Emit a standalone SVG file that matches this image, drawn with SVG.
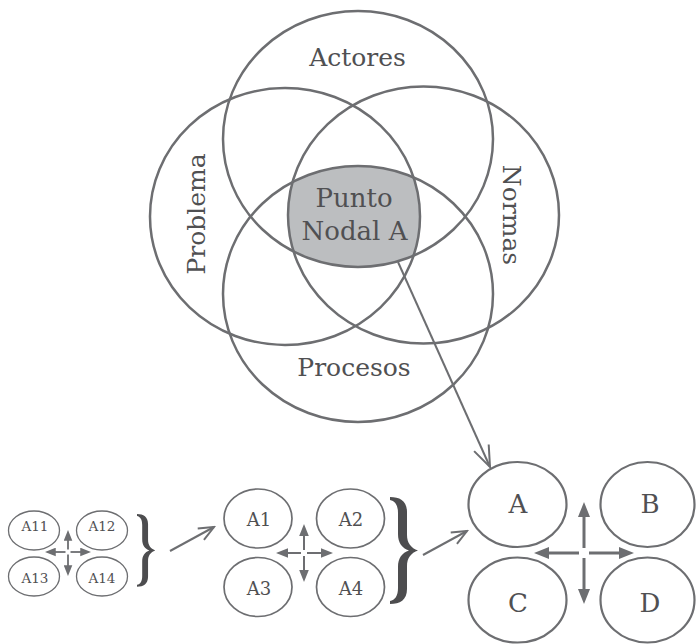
<svg xmlns="http://www.w3.org/2000/svg" width="698" height="644" viewBox="0 0 698 644">
  <style>
    .venn { fill: none; stroke: #6d6e71; stroke-width: 2.5; }
    .node { fill: #ffffff; stroke: #6d6e71; }
    .lbl { font-family: "DejaVu Serif", "Liberation Serif", serif; fill: #505052; text-anchor: middle; }
    .cross { stroke: #6d6e71; fill: none; marker-end: url(#tri); }
    .cross-s { stroke: #6d6e71; fill: none; marker-end: url(#triB); }
    .link { stroke: #6d6e71; stroke-width: 2; fill: none; }
    .brace { fill: #4d4d4f; }
  </style>
  <defs>
    <clipPath id="clipTop"><ellipse cx="358" cy="139" rx="135" ry="128"/></clipPath>
    <clipPath id="clipBottom"><ellipse cx="358" cy="294" rx="135" ry="128"/></clipPath>
    <clipPath id="clipLeft"><ellipse cx="285" cy="216.5" rx="135" ry="128.5"/></clipPath>
    <clipPath id="clipRight"><ellipse cx="423.5" cy="215" rx="135.5" ry="128.5"/></clipPath>
    <!-- filled heads for the cross arrows, scale with stroke width -->
    <marker id="tri" viewBox="0 0 10 8" markerWidth="5" markerHeight="4" refX="2" refY="4" orient="auto" markerUnits="strokeWidth">
      <path d="M0,0 L10,4 L0,8 Z" fill="#6d6e71"/>
    </marker>
    <marker id="triB" viewBox="0 0 10 8" markerWidth="6" markerHeight="5" refX="2" refY="4" orient="auto" markerUnits="strokeWidth">
      <path d="M0,0 L10,4 L0,8 Z" fill="#6d6e71"/>
    </marker>
    <!-- open chevron heads -->
    <marker id="openL" viewBox="-24 -12 26 24" markerWidth="26" markerHeight="24" refX="0" refY="0" orient="auto" markerUnits="userSpaceOnUse">
      <path d="M-21,-8 L0,0 L-21,8" fill="none" stroke="#6d6e71" stroke-width="2"/>
    </marker>
    <marker id="openS" viewBox="-18 -9 20 18" markerWidth="20" markerHeight="18" refX="0" refY="0" orient="auto" markerUnits="userSpaceOnUse">
      <path d="M-15,-6.5 L0,0 L-15,6.5" fill="none" stroke="#6d6e71" stroke-width="2"/>
    </marker>
  </defs>

  <!-- shaded core shared by all four sets -->
  <g id="punto-nodal">
    <g clip-path="url(#clipTop)">
      <g clip-path="url(#clipBottom)">
        <g clip-path="url(#clipLeft)">
          <ellipse cx="423.5" cy="215" rx="135.5" ry="128.5" fill="#bcbec0" clip-path="url(#clipRight)"/>
        </g>
      </g>
    </g>
  </g>

  <g id="actores"><ellipse class="venn" cx="358" cy="139" rx="135" ry="128"/></g>
  <g id="procesos"><ellipse class="venn" cx="358" cy="294" rx="135" ry="128"/></g>
  <g id="problema"><ellipse class="venn" cx="285" cy="216.5" rx="135" ry="128.5"/></g>
  <g id="normas"><ellipse class="venn" cx="423.5" cy="215" rx="135.5" ry="128.5"/></g>

  <g id="venn-labels">
    <text class="lbl" x="357.5" y="66" font-size="25">Actores</text>
    <text class="lbl" x="354" y="207" font-size="26">Punto</text>
    <text class="lbl" x="354.5" y="240" font-size="26">Nodal A</text>
    <text class="lbl" x="354" y="376" font-size="25">Procesos</text>
    <text class="lbl" font-size="25" transform="translate(205,214) rotate(-90)">Problema</text>
    <text class="lbl" font-size="25" transform="translate(503,215) rotate(90)">Normas</text>
  </g>

  <!-- small group -->
  <g id="a11"><ellipse class="node" stroke-width="1.3" cx="34" cy="530.5" rx="25.5" ry="19.5"/><text class="lbl" x="35" y="531" font-size="13.5">A11</text></g>
  <g id="a12"><ellipse class="node" stroke-width="1.3" cx="102" cy="530.5" rx="25.5" ry="19.5"/><text class="lbl" x="102" y="531" font-size="13.5">A12</text></g>
  <g id="a13"><ellipse class="node" stroke-width="1.3" cx="34" cy="576.5" rx="25.5" ry="19.5"/><text class="lbl" x="35" y="583" font-size="13.5">A13</text></g>
  <g id="a14"><ellipse class="node" stroke-width="1.3" cx="102" cy="576.5" rx="25.5" ry="19.5"/><text class="lbl" x="102" y="583" font-size="13.5">A14</text></g>

  <!-- middle group -->
  <g id="a1"><ellipse class="node" stroke-width="1.7" cx="258" cy="518.5" rx="34" ry="29.5"/><text class="lbl" x="259" y="526" font-size="18">A1</text></g>
  <g id="a2"><ellipse class="node" stroke-width="1.7" cx="350.5" cy="518.5" rx="34" ry="29.5"/><text class="lbl" x="351" y="526" font-size="18">A2</text></g>
  <g id="a3"><ellipse class="node" stroke-width="1.7" cx="258" cy="587" rx="34" ry="29.5"/><text class="lbl" x="259" y="595" font-size="18">A3</text></g>
  <g id="a4"><ellipse class="node" stroke-width="1.7" cx="350.5" cy="587" rx="34" ry="29.5"/><text class="lbl" x="351" y="595" font-size="18">A4</text></g>

  <!-- large group -->
  <g id="node-a"><ellipse class="node" stroke-width="2.2" cx="517.5" cy="504.5" rx="49" ry="42.5"/><text class="lbl" x="518" y="513" font-size="26">A</text></g>
  <g id="node-b"><ellipse class="node" stroke-width="2.2" cx="647.5" cy="504.5" rx="47" ry="42.5"/><text class="lbl" x="650" y="513" font-size="26">B</text></g>
  <g id="node-c"><ellipse class="node" stroke-width="2.2" cx="517.5" cy="600" rx="49" ry="42.5"/><text class="lbl" x="518" y="612" font-size="26">C</text></g>
  <g id="node-d"><ellipse class="node" stroke-width="2.2" cx="647.5" cy="600" rx="47" ry="42.5"/><text class="lbl" x="650" y="612" font-size="26">D</text></g>

  <!-- grouping braces -->
  <g id="braces">
    <path class="brace" transform="translate(390,497)" d="M0,0 C10,0 17,4 17,15 L17,38 C17,46 21,51 28,53.5 C21,56 17,61 17,69 L17,92 C17,103 10,107 0,107 L0,104 C5,103 8,99 8,91 L8,70 C8,61 12,56 19,53.5 C12,51 8,46 8,37 L8,16 C8,8 5,4 0,3 Z"/>
    <path class="brace" transform="translate(137,514) scale(0.65,0.68)" d="M0,0 C10,0 17,4 17,15 L17,38 C17,46 21,51 28,53.5 C21,56 17,61 17,69 L17,92 C17,103 10,107 0,107 L0,104 C5,103 8,99 8,91 L8,70 C8,61 12,56 19,53.5 C12,51 8,46 8,37 L8,16 C8,8 5,4 0,3 Z"/>
  </g>

  <g id="connectors">
    <!-- core to node A -->
    <line class="link" x1="398" y1="262" x2="490" y2="467" marker-end="url(#openL)"/>
    <!-- between groups -->
    <line class="link" x1="170" y1="551" x2="214" y2="527" marker-end="url(#openS)"/>
    <line class="link" x1="423" y1="555" x2="467" y2="531" marker-end="url(#openS)"/>

    <!-- cross arrows, large group -->
    <g stroke-width="3">
      <line class="cross" x1="579" y1="553" x2="546" y2="553"/>
      <line class="cross" x1="589" y1="553" x2="622" y2="553"/>
      <line class="cross" x1="584" y1="548" x2="584" y2="514"/>
      <line class="cross" x1="584" y1="558" x2="584" y2="592"/>
    </g>
    <!-- cross arrows, middle group -->
    <g stroke-width="2">
      <line class="cross-s" x1="301" y1="553" x2="285.6" y2="553"/>
      <line class="cross-s" x1="307" y1="553" x2="323.4" y2="553"/>
      <line class="cross-s" x1="304" y1="550" x2="304" y2="533.6"/>
      <line class="cross-s" x1="304" y1="556" x2="304" y2="572.4"/>
    </g>
    <!-- cross arrows, small group -->
    <g stroke-width="1.8">
      <line class="cross-s" x1="65.5" y1="552" x2="53.6" y2="552"/>
      <line class="cross-s" x1="70.5" y1="552" x2="82.4" y2="552"/>
      <line class="cross-s" x1="68" y1="549.5" x2="68" y2="538.6"/>
      <line class="cross-s" x1="68" y1="554.5" x2="68" y2="567.4"/>
    </g>
  </g>
</svg>
